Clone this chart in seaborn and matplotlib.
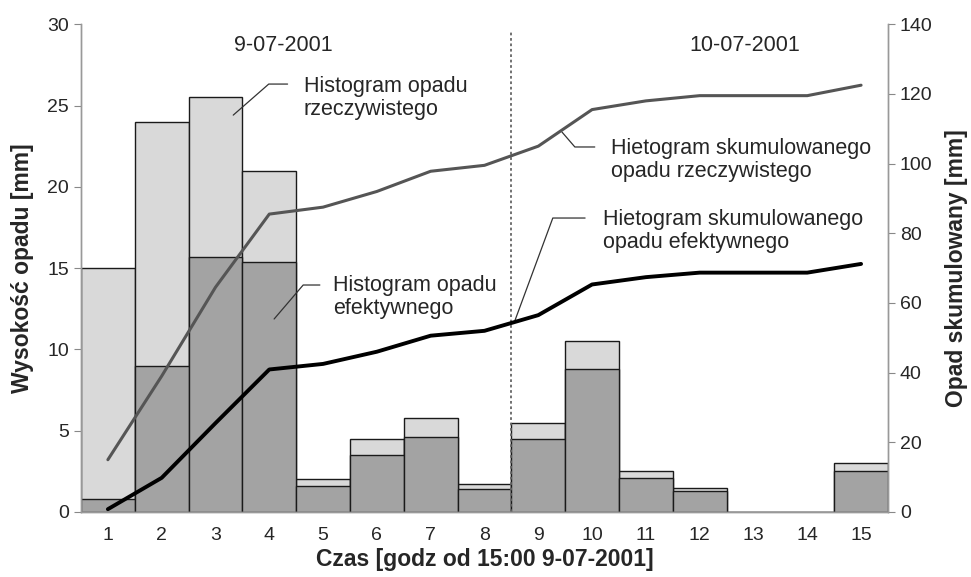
import numpy as np
import matplotlib
matplotlib.use("Agg")
import matplotlib.pyplot as plt
import seaborn as sb
import pandas as pd

# Data
hours = [1, 2, 3, 4, 5, 6, 7, 8, 9, 10, 11, 12, 13, 14, 15]
rain_total = [15.0, 24.0, 25.5, 21.0, 2.0, 4.5, 5.8, 1.7, 5.5, 10.5, 2.5, 1.5, 0.0, 0.0, 3.0]
rain_effective = [0.8, 9.0, 15.7, 15.4, 1.6, 3.5, 4.6, 1.4, 4.5, 8.8, 2.1, 1.3, 0.0, 0.0, 2.5]
cum_total = [15.0, 39.0, 64.5, 85.5, 87.5, 92.0, 97.8, 99.5, 105.0, 115.5, 118.0, 119.5, 119.5, 119.5, 122.5]
cum_effective = [0.8, 9.8, 25.5, 40.9, 42.5, 46.0, 50.6, 52.0, 56.5, 65.3, 67.4, 68.7, 68.7, 68.7, 71.2]

df = pd.DataFrame({"hour": hours, "total": rain_total, "eff": rain_effective,
                   "cum_total": cum_total, "cum_eff": cum_effective})

sb.set_style("white")
plt.rcParams['font.family'] = ['Liberation Sans', 'DejaVu Sans']

fig = plt.figure(figsize=(9.71, 5.77), dpi=100)
ax = fig.add_axes([0.0834, 0.1127, 0.8311, 0.8453])

# Bars: real rainfall, then effective rainfall on top
sb.barplot(data=df, x="hour", y="total", native_scale=True, width=1, color="#d9d9d9",
           edgecolor="#1a1a1a", linewidth=1, saturation=1, ax=ax)
sb.barplot(data=df, x="hour", y="eff", native_scale=True, width=1, color="#a3a3a3",
           edgecolor="#1a1a1a", linewidth=1, saturation=1, ax=ax)

ax.set_xlim(0.5, 15.5)
ax.set_ylim(0, 30)
ax.set_yticks(np.arange(0, 31, 5))
ax.set_xticks(hours)
ax.set_xticks(np.arange(0.5, 16, 1), minor=True)
ax.tick_params(axis="x", which="major", length=0, labelsize=14, pad=11)
ax.tick_params(axis="x", which="minor", length=5, color="#888888", width=1)
ax.tick_params(axis="y", length=5, color="#888888", labelsize=14, left=True)
ax.set_xlabel("Czas [godz od 15:00 9-07-2001]", fontsize=16.5, fontweight="bold", labelpad=3)
ax.set_ylabel("Wysokość opadu [mm]", fontsize=16.5, fontweight="bold", labelpad=10)

# Cumulative lines
ax2 = ax.twinx()
sb.lineplot(data=df, x="hour", y="cum_total", color="#555555", linewidth=2.2, ax=ax2)
sb.lineplot(data=df, x="hour", y="cum_eff", color="#000000", linewidth=2.8, ax=ax2)
ax2.set_ylim(0, 140)
ax2.set_yticks(np.arange(0, 141, 20))
ax2.tick_params(axis="y", length=5, color="#888888", labelsize=14, right=True)
ax2.set_ylabel("Opad skumulowany [mm]", fontsize=16.5, fontweight="bold", labelpad=9)

for a in (ax, ax2):
    a.spines["top"].set_visible(False)
    for s in ("left", "right", "bottom"):
        a.spines[s].set_color("#999999")
        a.spines[s].set_linewidth(1)

# Day separator
ax.vlines(8.5, 0, 29.6, color="#666666", linestyle=(0, (1.5, 1.5)), linewidth=1.3)
ax.text(4.27, 28.7, "9-07-2001", fontsize=15.5, ha="center", va="center")
ax.text(12.84, 28.7, "10-07-2001", fontsize=15.5, ha="center", va="center")

# Annotations with leader lines
ax.plot([3.33, 3.99, 4.34], [24.41, 26.32, 26.32], color="#333333", linewidth=0.9)
ax.text(4.64, 25.45, "Histogram opadu\nrzeczywistego", fontsize=15.5, ha="left", va="center",
        linespacing=1.1)
ax.plot([4.09, 4.63, 4.94], [11.87, 13.96, 13.96], color="#333333", linewidth=0.9)
ax.text(5.18, 13.22, "Histogram opadu\nefektywnego", fontsize=15.5, ha="left", va="center",
        linespacing=1.1)
ax.plot([9.44, 9.68, 10.05], [23.37, 22.45, 22.45], color="#333333", linewidth=0.9)
ax.text(10.35, 21.65, "Hietogram skumulowanego\nopadu rzeczywistego", fontsize=15.5, ha="left",
        va="center", linespacing=1.1)
ax.plot([8.57, 9.27, 9.87], [11.81, 18.08, 18.08], color="#333333", linewidth=0.9)
ax.text(10.2, 17.28, "Hietogram skumulowanego\nopadu efektywnego", fontsize=15.5, ha="left",
        va="center", linespacing=1.1)

fig.savefig("out.png", dpi=100)
